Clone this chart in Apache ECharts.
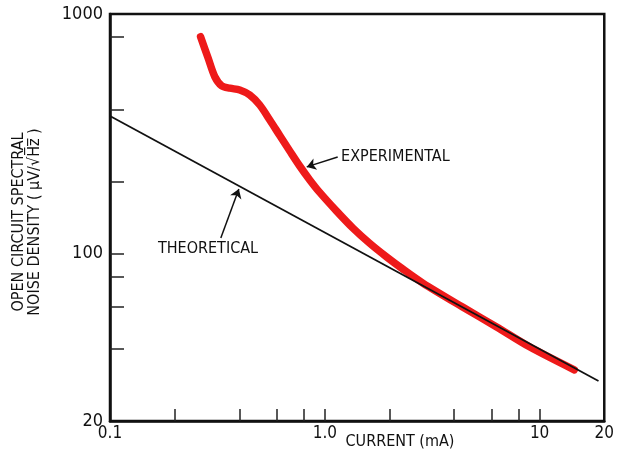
<!DOCTYPE html>
<html><head><meta charset="utf-8">
<script src="https://cdn.jsdelivr.net/npm/echarts@6/dist/echarts.min.js"></script>
<style>html,body{margin:0;padding:0;background:#fff}#c{width:617px;height:456px}</style>
</head><body><div id="c"></div>
<script>
// Data (current in mA, noise density in µV/√Hz)
const expCurrent = [0.264, 0.2865, 0.3076, 0.3307, 0.3613, 0.402, 0.4474, 0.498, 0.5545, 0.617, 0.687, 0.764, 0.851, 0.947, 1.132, 1.352, 1.617, 1.934, 2.31, 2.86, 4.38, 6.28, 8.97, 14.5];
const expNoise   = [804,   653,    547,    502,    490,    482,   459,    417,   361,    311,   268,   232,   203,   180,   150.7, 127.7, 110.4, 97.0,  86.1, 75.3, 59.8, 49.5, 40.8, 32.7];
const theoCurrent = [0.1, 18.8];
const theoNoise   = [375, 29.4];

const xTickValues  = [0.2, 0.4, 0.6, 0.8, 1, 2, 4, 6, 8, 10];
const xLabelValues = [0.1, 1, 10, 20];
const xLabelTexts  = ['0.1', '1.0', '10', '20'];
const yTickValues  = [40, 60, 80, 100, 200, 400, 800];
const yLabelValues = [20, 100, 1000];
const yLabelTexts  = ['20', '100', '1000'];

// Annotations (data space)
const expNote  = {text: 'EXPERIMENTAL', at: [1.19, 253], from: [1.148, 253], to: [0.824, 230]};
const theoNote = {text: 'THEORETICAL',  at: [0.286, 105], from: [0.328, 116], to: [0.398, 186]};

const L = Math.log10;
const FONT = '"DejaVu Sans Condensed","Liberation Sans Narrow","DejaVu Sans",sans-serif';
const pairs = (xs, ys) => xs.map((x, i) => [L(x), L(ys[i])]);
const lookup = (vals, texts) => v => {
  const i = vals.findIndex(t => Math.abs(L(t) - v) < 1e-6);
  return i >= 0 ? texts[i] : '';
};

const chart = echarts.init(document.getElementById('c'), null, {renderer: 'canvas'});
chart.setOption({
  animation: false,
  backgroundColor: '#fff',
  grid: {left: 110, top: 14, right: 12, bottom: 35, show: true, borderColor: '#111', borderWidth: 2.5, backgroundColor: 'transparent'},
  xAxis: {
    type: 'value', min: L(0.1), max: L(20),
    axisLine: {show: true, onZero: false, lineStyle: {color: '#111', width: 2.5}},
    axisTick: {show: true, inside: true, length: 12, customValues: xTickValues.map(L), lineStyle: {color: '#222', width: 1.5}},
    axisLabel: {show: true, customValues: xLabelValues.map(L), formatter: lookup(xLabelValues, xLabelTexts),
      color: '#111', fontFamily: FONT, fontSize: 17, margin: 4},
    splitLine: {show: false}
  },
  yAxis: {
    type: 'value', min: L(20), max: 3,
    axisLine: {show: true, onZero: false, lineStyle: {color: '#111', width: 2.5}},
    axisTick: {show: true, inside: true, length: 14, customValues: yTickValues.map(L), lineStyle: {color: '#222', width: 1.5}},
    axisLabel: {show: true, customValues: yLabelValues.map(L), formatter: lookup(yLabelValues, yLabelTexts),
      color: '#111', fontFamily: FONT, fontSize: 18, margin: 7},
    splitLine: {show: false}
  },
  series: [
    {
      type: 'line', data: pairs(expCurrent, expNoise), smooth: 0.3, showSymbol: false, z: 2,
      lineStyle: {color: '#ee1a1a', width: 7.5, cap: 'round', join: 'round'}
    },
    {
      type: 'line', data: pairs(theoCurrent, theoNoise), showSymbol: false, z: 3,
      lineStyle: {color: '#111', width: 1.8},
      markLine: {
        silent: true, symbol: ['none', 'arrow'], symbolSize: 9,
        lineStyle: {color: '#111', width: 1.5, type: 'solid'},
        label: {show: false},
        data: [
          [{coord: [L(expNote.from[0]), L(expNote.from[1])]}, {coord: [L(expNote.to[0]), L(expNote.to[1])]}],
          [{coord: [L(theoNote.from[0]), L(theoNote.from[1])]}, {coord: [L(theoNote.to[0]), L(theoNote.to[1])]}]
        ]
      },
      markPoint: {
        silent: true, symbol: 'circle', symbolSize: 0,
        data: [
          {coord: [L(expNote.at[0]), L(expNote.at[1])], value: expNote.text,
            label: {show: true, position: 'right', distance: 0, formatter: expNote.text, color: '#111', fontFamily: FONT, fontSize: 16}},
          {coord: [L(theoNote.at[0]), L(theoNote.at[1])], value: theoNote.text,
            label: {show: true, position: 'inside', formatter: theoNote.text, color: '#111', fontFamily: FONT, fontSize: 16}}
        ]
      }
    }
  ],
  graphic: [
    {type: 'text', x: 400, y: 442, style: {text: 'CURRENT (mA)', font: '16px ' + FONT, fill: '#111', textAlign: 'center', textVerticalAlign: 'middle'}},
    {type: 'text', x: 27, y: 222, rotation: Math.PI / 2,
      style: {text: 'OPEN CIRCUIT SPECTRAL\nNOISE DENSITY ( \u00B5V/\u221AH\u0305z\u0305 )', font: '16px ' + FONT, lineHeight: 16, fill: '#111', textAlign: 'center', textVerticalAlign: 'middle'}}
  ]
});
</script>
</body></html>
